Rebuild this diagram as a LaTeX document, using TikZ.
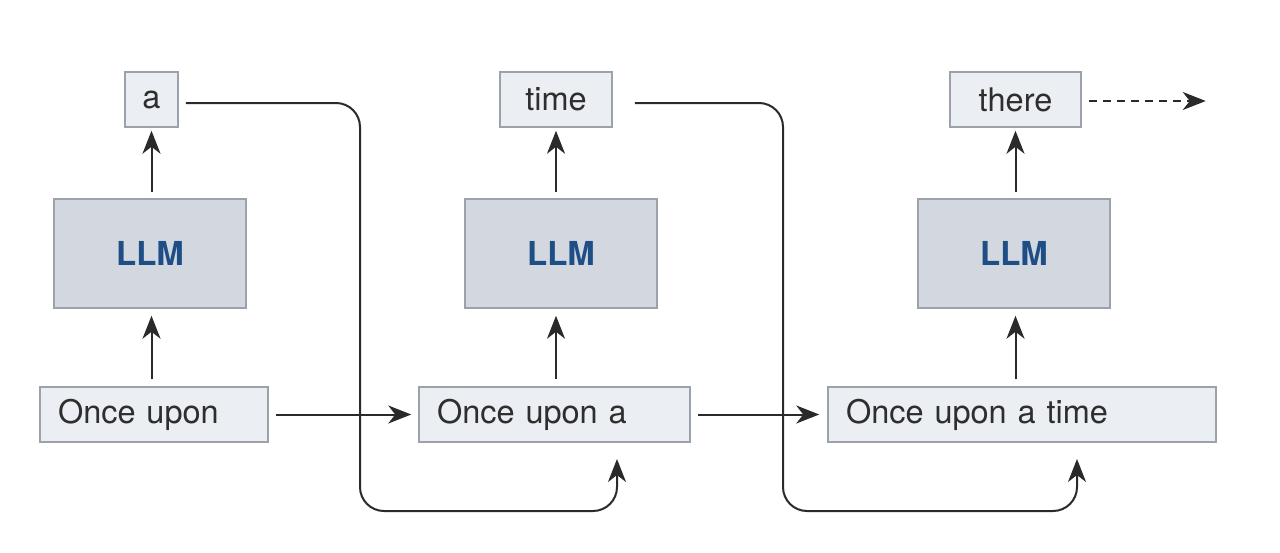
\documentclass[tikz,border=0pt]{standalone}
\usepackage{fontspec}
\setmainfont{TeX Gyre Heros}
\usetikzlibrary{arrows.meta}
\definecolor{boxfill}{HTML}{EBEEF2}
\definecolor{boxline}{HTML}{9CA2AA}
\definecolor{llmfill}{HTML}{D3D8E0}
\definecolor{llmtext}{HTML}{1E4E85}
\definecolor{txt}{HTML}{2E2E2E}
\definecolor{ln}{HTML}{2A2A2A}
\tikzset{
  tok/.style={draw=boxline, fill=boxfill, line width=1.5pt, minimum height=55pt, inner sep=0pt, text=txt, font=\fontsize{32.5}{38}\selectfont},
  inp/.style={tok, align=left, inner xsep=18pt},
  llm/.style={draw=boxline, fill=llmfill, line width=1.5pt, minimum width=192pt, minimum height=109pt, inner sep=0pt, text=llmtext, font=\fontsize{33}{38}\selectfont\bfseries},
  arr/.style={draw=ln, line width=2pt, -{Stealth[length=23pt,width=18pt,inset=7pt]}},
  flow/.style={arr, rounded corners=24pt}
}
\begin{document}
\begin{tikzpicture}[x=1pt,y=-1pt]
\useasboundingbox (0,0) rectangle (1280,552);
% column 1
\node[tok, minimum width=53pt] (a) at (151.5,99.5) {a};
\node[llm] (l1) at (150,253.5) {LLM};
\node[inp, text width=192pt] (i1) at (154,414.5) {Once upon};
% column 2
\node[tok, minimum width=112pt] (t2) at (556,99.5) {time};
\node[llm] (l2) at (561,253.5) {LLM};
\node[inp, text width=235pt] (i2) at (554.5,414.5) {Once upon a};
% column 3
\node[tok, minimum width=131pt] (t3) at (1015.5,99.5) {there};
\node[llm] (l3) at (1014,253.5) {LLM};
\node[inp, text width=352pt] (i3) at (1022,414.5) {Once upon a time};
% vertical arrows
\draw[arr, shorten <=6pt, shorten >=3pt] (l1.north -| a) -- (a.south);
\draw[arr, shorten <=7pt, shorten >=7pt] (i1.north -| a) -- (l1.south -| a);
\draw[arr, shorten <=6pt, shorten >=3pt] (l2.north -| t2) -- (t2.south);
\draw[arr, shorten <=7pt, shorten >=7pt] (i2.north -| t2) -- (l2.south -| t2);
\draw[arr, shorten <=6pt, shorten >=3pt] (l3.north -| t3) -- (t3.south);
\draw[arr, shorten <=7pt, shorten >=7pt] (i3.north -| t3) -- (l3.south -| t3);
% horizontal arrows
\draw[arr, shorten <=7pt, shorten >=7pt] (i1.east) -- (i2.west);
\draw[arr, shorten <=7pt, shorten >=8pt] (i2.east) -- (i3.west);
\draw[arr, dashed, dash pattern=on 8pt off 6pt, shorten <=7pt] ([yshift=-1.5pt]t3.east) -- ++(124,0) coordinate (tend);
% feedback loops
\coordinate (c1) at (360,511);
\coordinate (e1) at (617,459);
\draw[flow] ([xshift=7pt,yshift=-3.5pt]a.east) -| (c1) -| (e1);
\coordinate (c2) at (783,511);
\coordinate (e2) at (1077,459);
\draw[flow] ([xshift=22pt,yshift=-3.5pt]t2.east) -| (c2) -| (e2);
\end{tikzpicture}
\end{document}
